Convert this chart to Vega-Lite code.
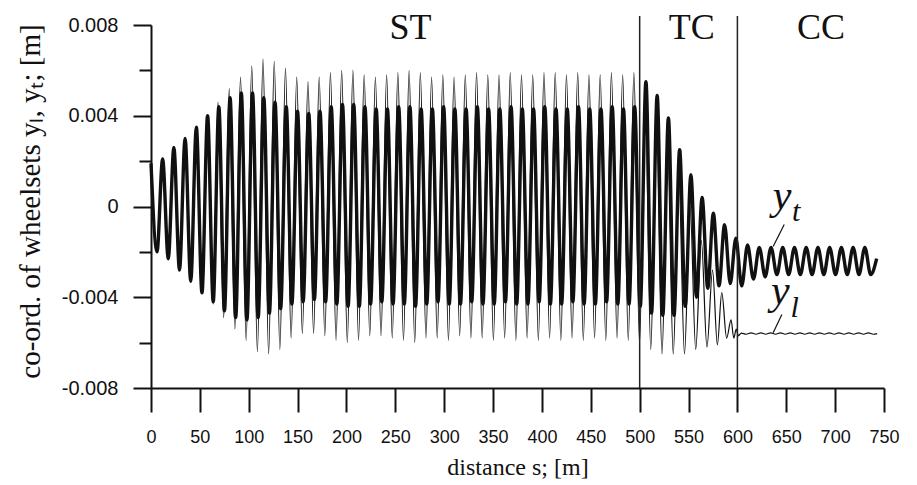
{
  "$schema": "https://vega.github.io/schema/vega-lite/v6.json",
  "width": 733,
  "height": 363,
  "autosize": "none",
  "padding": {"left": 151, "top": 25, "right": 33, "bottom": 97},
  "background": "white",
  "config": {"view": {"stroke": null}},
  "datasets": {
    "yt": [
      {"s":0,"y":0.0019},{"s":6.15,"y":-0.0020},{"s":11.9,"y":0.0021},{"s":17.65,"y":-0.0023},{"s":23.4,"y":0.0026},{"s":29.15,"y":-0.0028},{"s":34.9,"y":0.0030},{"s":40.65,"y":-0.0033},{"s":46.4,"y":0.0035},{"s":52.15,"y":-0.0038},
      {"s":57.9,"y":0.0040},{"s":63.65,"y":-0.0042},{"s":69.4,"y":0.0044},{"s":75.15,"y":-0.0046},{"s":80.9,"y":0.0048},{"s":86.65,"y":-0.0049},{"s":92.4,"y":0.0050},{"s":98.15,"y":-0.0050},{"s":103.9,"y":0.0050},{"s":109.65,"y":-0.0049},
      {"s":115.4,"y":0.0048},{"s":121.15,"y":-0.0047},{"s":126.9,"y":0.0046},{"s":132.65,"y":-0.0045},{"s":138.4,"y":0.0044},{"s":144.15,"y":-0.0043},{"s":149.9,"y":0.0042},{"s":155.65,"y":-0.0042},{"s":161.4,"y":0.0041},{"s":167.15,"y":-0.0041},
      {"s":172.9,"y":0.0042},{"s":178.65,"y":-0.0042},{"s":184.4,"y":0.0044},{"s":190.15,"y":-0.0043},{"s":195.9,"y":0.0045},{"s":201.65,"y":-0.0044},{"s":207.4,"y":0.0045},{"s":213.15,"y":-0.0044},{"s":218.9,"y":0.0044},{"s":224.65,"y":-0.0043},
      {"s":230.4,"y":0.0043},{"s":236.15,"y":-0.0042},{"s":241.9,"y":0.0043},{"s":247.65,"y":-0.0043},{"s":253.4,"y":0.0044},{"s":259.15,"y":-0.0043},{"s":264.9,"y":0.0044},{"s":270.65,"y":-0.0044},{"s":276.4,"y":0.0043},{"s":282.15,"y":-0.0043},
      {"s":287.9,"y":0.0043},{"s":293.65,"y":-0.0042},{"s":299.4,"y":0.0044},{"s":305.15,"y":-0.0043},{"s":310.9,"y":0.0043},{"s":316.65,"y":-0.0043},{"s":322.4,"y":0.0043},{"s":328.15,"y":-0.0042},{"s":333.9,"y":0.0044},{"s":339.65,"y":-0.0043},
      {"s":345.4,"y":0.0043},{"s":351.15,"y":-0.0043},{"s":356.9,"y":0.0043},{"s":362.65,"y":-0.0042},{"s":368.4,"y":0.0044},{"s":374.15,"y":-0.0043},{"s":379.9,"y":0.0043},{"s":385.65,"y":-0.0043},{"s":391.4,"y":0.0043},{"s":397.15,"y":-0.0042},
      {"s":402.9,"y":0.0044},{"s":408.65,"y":-0.0043},{"s":414.4,"y":0.0043},{"s":420.15,"y":-0.0043},{"s":425.9,"y":0.0043},{"s":431.65,"y":-0.0042},{"s":437.4,"y":0.0044},{"s":443.15,"y":-0.0043},{"s":448.9,"y":0.0043},{"s":454.65,"y":-0.0043},
      {"s":460.4,"y":0.0043},{"s":466.15,"y":-0.0042},{"s":471.9,"y":0.0044},{"s":477.65,"y":-0.0043},{"s":483.4,"y":0.0043},{"s":489.15,"y":-0.0043},{"s":494.9,"y":0.0044},{"s":500.65,"y":-0.0044},{"s":506.4,"y":0.0055},{"s":512.15,"y":-0.0047},
      {"s":517.9,"y":0.0049},{"s":523.65,"y":-0.0048},{"s":529.4,"y":0.0039},{"s":535.15,"y":-0.0048},{"s":540.9,"y":0.0025},{"s":546.65,"y":-0.0044},{"s":552.4,"y":0.0014},{"s":558.15,"y":-0.0040},{"s":563.9,"y":0.0004},{"s":569.65,"y":-0.0036},
      {"s":575.4,"y":-0.0003},{"s":581.15,"y":-0.0035},{"s":586.9,"y":-0.0008},{"s":592.65,"y":-0.0034},{"s":598.4,"y":-0.0014},{"s":604.4,"y":-0.0035},{"s":610.4,"y":-0.0017},{"s":616.4,"y":-0.0032},{"s":622.4,"y":-0.0018},{"s":628.4,"y":-0.0031},
      {"s":634.4,"y":-0.0018},{"s":640.4,"y":-0.0030},{"s":646.4,"y":-0.0018},{"s":652.4,"y":-0.0030},{"s":658.4,"y":-0.0018},{"s":664.4,"y":-0.0030},{"s":670.4,"y":-0.0018},{"s":676.4,"y":-0.0030},{"s":682.4,"y":-0.0018},{"s":688.4,"y":-0.0030},
      {"s":694.4,"y":-0.0018},{"s":700.4,"y":-0.0030},{"s":706.4,"y":-0.0018},{"s":712.4,"y":-0.0030},{"s":718.4,"y":-0.0018},{"s":724.4,"y":-0.0030},{"s":730.4,"y":-0.0018},{"s":736.4,"y":-0.0030},{"s":742.5,"y":-0.0023}
    ],
    "yl": [
      {"s":0,"y":0.0019},{"s":6.15,"y":-0.0020},{"s":11.9,"y":0.0021},{"s":17.65,"y":-0.0023},{"s":23.4,"y":0.0026},{"s":29.15,"y":-0.0028},{"s":34.9,"y":0.0030},{"s":40.65,"y":-0.0033},{"s":46.4,"y":0.0035},{"s":52.15,"y":-0.0038},
      {"s":57.9,"y":0.0040},{"s":63.65,"y":-0.0043},{"s":68.6,"y":0.0046},{"s":74.35,"y":-0.0049},{"s":80.1,"y":0.0052},{"s":85.85,"y":-0.0054},{"s":91.6,"y":0.0057},{"s":97.35,"y":-0.0059},{"s":103.1,"y":0.0062},{"s":108.85,"y":-0.0064},
      {"s":114.6,"y":0.0065},{"s":120.35,"y":-0.0065},{"s":126.1,"y":0.0064},{"s":131.85,"y":-0.0063},{"s":137.6,"y":0.0061},{"s":143.35,"y":-0.0058},{"s":149.1,"y":0.0057},{"s":154.85,"y":-0.0056},{"s":160.6,"y":0.0055},{"s":166.35,"y":-0.0056},
      {"s":172.1,"y":0.0057},{"s":177.85,"y":-0.0057},{"s":183.6,"y":0.0059},{"s":189.35,"y":-0.0059},{"s":195.1,"y":0.0060},{"s":200.85,"y":-0.0060},{"s":206.6,"y":0.0060},{"s":212.35,"y":-0.0059},{"s":218.1,"y":0.0058},{"s":223.85,"y":-0.0057},
      {"s":229.6,"y":0.0057},{"s":235.35,"y":-0.0057},{"s":241.1,"y":0.0058},{"s":246.85,"y":-0.0058},{"s":252.6,"y":0.0059},{"s":258.35,"y":-0.0059},{"s":264.1,"y":0.0060},{"s":269.85,"y":-0.0060},{"s":275.6,"y":0.0059},{"s":281.35,"y":-0.0058},
      {"s":287.1,"y":0.0057},{"s":292.85,"y":-0.0058},{"s":298.6,"y":0.0058},{"s":304.35,"y":-0.0059},{"s":310.1,"y":0.0057},{"s":315.85,"y":-0.0057},{"s":321.6,"y":0.0058},{"s":327.35,"y":-0.0058},{"s":333.1,"y":0.0059},{"s":338.85,"y":-0.0058},
      {"s":344.6,"y":0.0058},{"s":350.35,"y":-0.0059},{"s":356.1,"y":0.0058},{"s":361.85,"y":-0.0058},{"s":367.6,"y":0.0059},{"s":373.35,"y":-0.0059},{"s":379.1,"y":0.0058},{"s":384.85,"y":-0.0058},{"s":390.6,"y":0.0058},{"s":396.35,"y":-0.0059},
      {"s":402.1,"y":0.0059},{"s":407.85,"y":-0.0058},{"s":413.6,"y":0.0059},{"s":419.35,"y":-0.0059},{"s":425.1,"y":0.0058},{"s":430.85,"y":-0.0058},{"s":436.6,"y":0.0059},{"s":442.35,"y":-0.0059},{"s":448.1,"y":0.0058},{"s":453.85,"y":-0.0058},
      {"s":459.6,"y":0.0058},{"s":465.35,"y":-0.0059},{"s":471.1,"y":0.0059},{"s":476.85,"y":-0.0058},{"s":482.6,"y":0.0058},{"s":488.35,"y":-0.0059},{"s":494.1,"y":0.0059},{"s":499.85,"y":-0.0060},{"s":505.6,"y":0.0050},{"s":511.35,"y":-0.0063},
      {"s":517.1,"y":0.0038},{"s":522.85,"y":-0.0065},{"s":528.6,"y":0.0025},{"s":534.35,"y":-0.0065},{"s":540.1,"y":0.0012},{"s":545.85,"y":-0.0065},{"s":551.6,"y":0.0000},{"s":557.35,"y":-0.0063},{"s":563.1,"y":-0.0015},{"s":568.85,"y":-0.0062},
      {"s":574.6,"y":-0.0028},{"s":579.5,"y":-0.0061},{"s":584,"y":-0.0038},{"s":589,"y":-0.0058},{"s":593.5,"y":-0.0050},{"s":596.3,"y":-0.0058},{"s":598.8,"y":-0.0054},{"s":601,"y":-0.0057},{"s":604,"y":-0.00558},{"s":609,"y":-0.00563},
      {"s":614,"y":-0.00557},{"s":619,"y":-0.00563},{"s":624,"y":-0.00557},{"s":629,"y":-0.00563},{"s":634,"y":-0.00557},{"s":639,"y":-0.00563},{"s":644,"y":-0.00557},{"s":649,"y":-0.00563},{"s":654,"y":-0.00557},{"s":659,"y":-0.00563},
      {"s":664,"y":-0.00557},{"s":669,"y":-0.00563},{"s":674,"y":-0.00557},{"s":679,"y":-0.00563},{"s":684,"y":-0.00557},{"s":689,"y":-0.00563},{"s":694,"y":-0.00557},{"s":699,"y":-0.00563},{"s":704,"y":-0.00557},{"s":709,"y":-0.00563},
      {"s":714,"y":-0.00557},{"s":719,"y":-0.00563},{"s":724,"y":-0.00557},{"s":729,"y":-0.00563},{"s":734,"y":-0.00557},{"s":739,"y":-0.00563},{"s":743,"y":-0.0056}
    ],
    "one": [{"n": 1}]
  },
  "layer": [
    {
      "data": {"name": "yt"},
      "mark": {"type": "line", "interpolate": "monotone", "color": "#111", "strokeWidth": 3.4},
      "encoding": {
        "x": {
          "field": "s", "type": "quantitative",
          "scale": {"domain": [0, 750], "nice": false, "zero": false},
          "axis": {
            "values": [0,25,50,75,100,125,150,175,200,225,250,275,300,325,350,375,400,425,450,475,500,525,550,575,600,625,650,675,700,725,750],
            "tickSize": {"condition": {"test": "datum.value % 50 === 0", "value": 24}, "value": 14},
            "labelExpr": "datum.value % 50 === 0 ? datum.label : ''",
            "format": "d",
            "grid": false,
            "labelFont": "Liberation Sans", "labelFontSize": 18, "labelColor": "#111", "labelPadding": 16,
            "labelOverlap": false, "labelFlush": false,
            "domainColor": "#111", "domainWidth": 2, "tickColor": "#111", "tickWidth": 2,
            "title": "distance s; [m]", "titleFont": "Liberation Serif", "titleFontSize": 24, "titleFontWeight": "normal", "titleColor": "#111",
            "titleX": 366.5, "titleY": 86, "titleBaseline": "alphabetic", "titleAlign": "center"
          }
        },
        "y": {
          "field": "y", "type": "quantitative",
          "scale": {"domain": [-0.008, 0.008], "nice": false, "zero": false},
          "axis": {
            "values": [-0.008,-0.006,-0.004,-0.002,0,0.002,0.004,0.006,0.008],
            "tickSize": {"condition": {"test": "round(datum.value*1000) % 4 === 0", "value": 18}, "value": 12},
            "labelExpr": "round(datum.value*1000) % 4 !== 0 ? '' : (datum.value === 0 ? '0' : (datum.value < 0 ? '-' : '') + format(abs(datum.value), '.3f'))",
            "grid": false,
            "labelFont": "Liberation Sans", "labelFontSize": 20, "labelColor": "#111", "labelPadding": 15,
            "labelOverlap": false, "labelFlush": false,
            "domainColor": "#111", "domainWidth": 2, "tickColor": "#111", "tickWidth": 2,
            "title": "co-ord. of wheelsets yₗ, yₜ; [m]", "titleFont": "Liberation Serif", "titleFontSize": 29, "titleFontWeight": "normal", "titleColor": "#111",
            "titleAngle": -90, "titleX": -112, "titleY": 176, "titleBaseline": "alphabetic", "titleAlign": "center"
          }
        }
      }
    },
    {
      "data": {"name": "yl"},
      "mark": {"type": "line", "interpolate": "monotone", "color": "#111", "strokeWidth": 1.2},
      "encoding": {
        "x": {"field": "s", "type": "quantitative", "axis": {"title": "distance s; [m]"}},
        "y": {"field": "y", "type": "quantitative", "axis": {"title": "co-ord. of wheelsets yₗ, yₜ; [m]"}}
      }
    },
    {"data": {"name": "one"}, "mark": {"type": "rule", "color": "#222", "strokeWidth": 1.5},
     "encoding": {"x": {"datum": 500}, "y": {"datum": -0.008}, "y2": {"datum": 0.0084}}},
    {"data": {"name": "one"}, "mark": {"type": "rule", "color": "#222", "strokeWidth": 1.5},
     "encoding": {"x": {"datum": 600}, "y": {"datum": -0.008}, "y2": {"datum": 0.0084}}},
    {"data": {"name": "one"}, "mark": {"type": "text", "text": "ST", "font": "Liberation Serif", "fontSize": 36, "align": "center", "baseline": "alphabetic", "color": "#111"},
     "encoding": {"x": {"datum": 265.6}, "y": {"datum": 0.0074}}},
    {"data": {"name": "one"}, "mark": {"type": "text", "text": "TC", "font": "Liberation Serif", "fontSize": 36, "align": "center", "baseline": "alphabetic", "color": "#111"},
     "encoding": {"x": {"datum": 553.4}, "y": {"datum": 0.0074}}},
    {"data": {"name": "one"}, "mark": {"type": "text", "text": "CC", "font": "Liberation Serif", "fontSize": 36, "align": "center", "baseline": "alphabetic", "color": "#111"},
     "encoding": {"x": {"datum": 685.6}, "y": {"datum": 0.0074}}},
    {"data": {"name": "one"}, "mark": {"type": "text", "text": "y", "font": "Liberation Serif", "fontStyle": "italic", "fontSize": 42, "align": "center", "baseline": "alphabetic", "color": "#111"},
     "encoding": {"x": {"datum": 645.8}, "y": {"datum": -0.0001}}},
    {"data": {"name": "one"}, "mark": {"type": "text", "text": "t", "font": "Liberation Serif", "fontStyle": "italic", "fontSize": 30, "align": "center", "baseline": "alphabetic", "color": "#111"},
     "encoding": {"x": {"datum": 660.2}, "y": {"datum": -0.00066}}},
    {"data": {"name": "one"}, "mark": {"type": "text", "text": "y", "font": "Liberation Serif", "fontStyle": "italic", "fontSize": 42, "align": "center", "baseline": "alphabetic", "color": "#111"},
     "encoding": {"x": {"datum": 643.8}, "y": {"datum": -0.00428}}},
    {"data": {"name": "one"}, "mark": {"type": "text", "text": "l", "font": "Liberation Serif", "fontStyle": "italic", "fontSize": 30, "align": "center", "baseline": "alphabetic", "color": "#111"},
     "encoding": {"x": {"datum": 658.6}, "y": {"datum": -0.00485}}},
    {"data": {"name": "one"}, "mark": {"type": "rule", "color": "#111", "strokeWidth": 1.2},
     "encoding": {"x": {"datum": 647.9}, "x2": {"datum": 636.6}, "y": {"datum": -0.00079}, "y2": {"datum": -0.00176}}},
    {"data": {"name": "one"}, "mark": {"type": "rule", "color": "#111", "strokeWidth": 1.2},
     "encoding": {"x": {"datum": 645.5}, "x2": {"datum": 636.6}, "y": {"datum": -0.00476}, "y2": {"datum": -0.00556}}}
  ]
}
